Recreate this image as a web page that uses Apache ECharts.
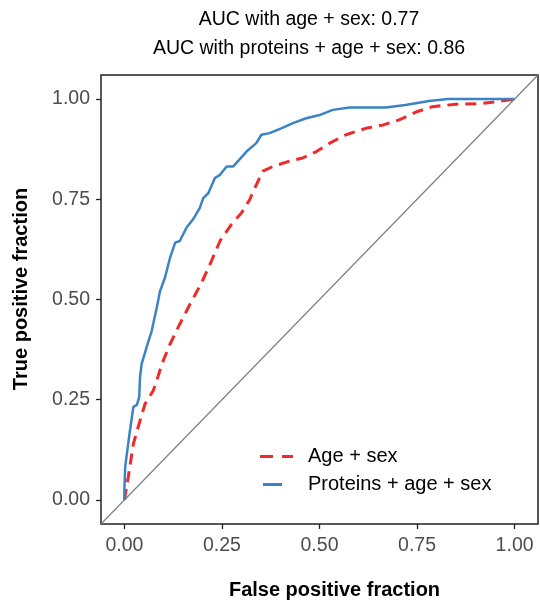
<!DOCTYPE html>
<html>
<head>
<meta charset="utf-8">
<script src="https://cdn.jsdelivr.net/npm/echarts@6/dist/echarts.min.js"></script>
<style>
  html, body { margin: 0; padding: 0; background: #fff; }
  #chart { width: 540px; height: 605px; }
</style>
</head>
<body>
<div id="chart"></div>
<script>
// ROC curves: [false positive fraction, true positive fraction]
var ageSex = [
  [0, 0], [0.010, 0.058], [0.023, 0.140], [0.040, 0.198], [0.053, 0.240],
  [0.074, 0.273], [0.083, 0.298], [0.096, 0.339], [0.117, 0.389], [0.142, 0.439],
  [0.168, 0.488], [0.198, 0.542], [0.223, 0.596], [0.245, 0.646], [0.274, 0.687],
  [0.300, 0.716], [0.321, 0.749], [0.338, 0.786], [0.355, 0.820], [0.381, 0.832],
  [0.423, 0.845], [0.457, 0.853], [0.492, 0.869], [0.526, 0.890], [0.568, 0.911],
  [0.619, 0.927], [0.662, 0.935], [0.704, 0.948], [0.751, 0.969], [0.790, 0.981],
  [0.849, 0.987], [0.917, 0.989], [0.960, 0.994], [1, 1]
];
var proteinsAgeSex = [
  [0, 0], [0, 0.029], [0.002, 0.083], [0.013, 0.165], [0.023, 0.232],
  [0.032, 0.237], [0.038, 0.257], [0.040, 0.306], [0.044, 0.339], [0.057, 0.381],
  [0.070, 0.422], [0.083, 0.480], [0.091, 0.520], [0.104, 0.555], [0.117, 0.604],
  [0.130, 0.642], [0.142, 0.646], [0.159, 0.679], [0.176, 0.700], [0.193, 0.728],
  [0.202, 0.753], [0.215, 0.765], [0.232, 0.803], [0.245, 0.811], [0.262, 0.832],
  [0.279, 0.832], [0.313, 0.869], [0.338, 0.890], [0.351, 0.911], [0.372, 0.915],
  [0.402, 0.927], [0.432, 0.940], [0.466, 0.952], [0.500, 0.960], [0.534, 0.973],
  [0.577, 0.979], [0.670, 0.979], [0.720, 0.985], [0.781, 0.995], [0.828, 1],
  [1, 1]
];
var chance = [[-0.06, -0.06], [1.06, 1.06]];
var ticks = [0, 0.25, 0.5, 0.75, 1];
var titleLines = ['AUC with age + sex: 0.77', 'AUC with proteins + age + sex: 0.86'];

var chart = echarts.init(document.getElementById('chart'));
var font = '"Liberation Sans", Arial, sans-serif';

function axis(name, gap, namePad, margin) {
  return {
    type: 'value',
    min: -0.06,
    max: 1.06,
    name: name,
    nameLocation: 'middle',
    nameGap: gap,
    nameTextStyle: { fontFamily: font, fontSize: 20, fontWeight: 'bold', color: '#000', padding: namePad },
    axisLine: { show: false, onZero: false },
    splitLine: { show: false },
    axisTick: { show: true, length: 5, customValues: ticks, lineStyle: { color: '#222', width: 1.3 } },
    axisLabel: {
      customValues: ticks,
      fontFamily: font, fontSize: 19.5, color: '#4d4d4d', margin: margin,
      formatter: function (v) { return v.toFixed(2); }
    }
  };
}

chart.setOption({
  animation: false,
  backgroundColor: '#fff',
  title: {
    text: titleLines.join('\n'),
    left: 309,
    textAlign: 'center',
    top: 5,
    padding: 0,
    textStyle: { fontFamily: font, fontSize: 19.5, fontWeight: 'normal', color: '#000', lineHeight: 29 }
  },
  grid: { left: 101, right: 2, top: 75, bottom: 78, show: true, borderColor: '#222', borderWidth: 1.5 },
  xAxis: axis('False positive fraction', 56, [0, 0, 0, 30], 12),
  yAxis: axis('True positive fraction', 70, [0, 0, 0, 21], 11),
  legend: {
    orient: 'vertical',
    left: 260,
    top: 445,
    padding: 0,
    itemWidth: 33,
    itemHeight: 3,
    itemGap: 5,
    data: [
      { name: 'Age + sex', icon: 'path://M0,0h13v3h-13z M22,0h11v3h-11z' },
      { name: 'Proteins + age + sex', icon: 'path://M0,1.5h0.01v0.01h-0.01z M3,0h19v3h-19z M32.99,1.5h0.01v0.01h-0.01z' }
    ],
    textStyle: { fontFamily: font, fontSize: 20, color: '#000', lineHeight: 23, padding: [0, 0, 0, 10] }
  },
  series: [
    {
      name: 'chance',
      type: 'line',
      data: chance,
      symbol: 'none',
      silent: true,
      lineStyle: { color: '#7a7a7a', width: 1.1 }
    },
    {
      name: 'Age + sex',
      type: 'line',
      data: ageSex,
      symbol: 'none',
      lineStyle: { color: '#ee2a2a', width: 3, type: [11, 7] },
      itemStyle: { color: '#ee2a2a' }
    },
    {
      name: 'Proteins + age + sex',
      type: 'line',
      data: proteinsAgeSex,
      symbol: 'none',
      lineStyle: { color: '#3a84c6', width: 2.5 },
      itemStyle: { color: '#3a84c6' }
    }
  ]
});
</script>
</body>
</html>
